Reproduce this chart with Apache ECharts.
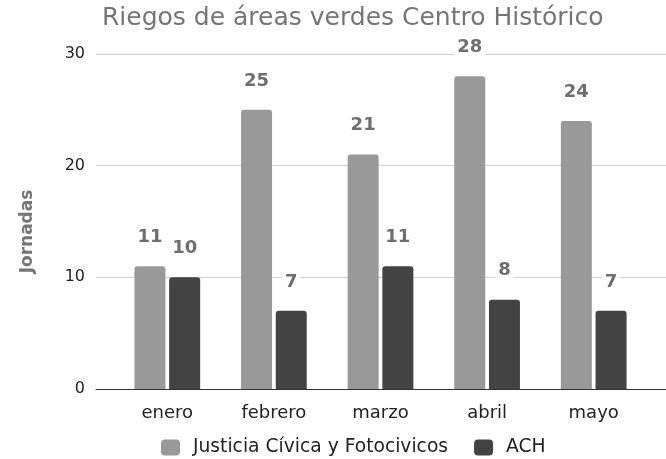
<!DOCTYPE html>
<html>
<head>
<meta charset="utf-8">
<script src="https://cdn.jsdelivr.net/npm/echarts@6/dist/echarts.min.js"></script>
<style>
  html, body { margin: 0; padding: 0; background: #fff; }
  #chart { width: 666px; height: 459px; }
</style>
</head>
<body>
<div id="chart"></div>
<script>
var chart = echarts.init(document.getElementById('chart'));

var months = ['enero', 'febrero', 'marzo', 'abril', 'mayo'];
var justicia = [11, 25, 21, 28, 24];
var ach = [10, 7, 11, 8, 7];
var yTicks = [0, 10, 20, 30];

var FONT = 'DejaVu Sans';

var barLabel = {
  show: true,
  position: 'top',
  distance: 19,
  fontFamily: FONT,
  fontSize: 18,
  fontWeight: 'bold',
  color: '#6e6e6e',
  backgroundColor: '#fff',
  padding: [1, 3]
};

var option = {
  animation: false,
  textStyle: { fontFamily: FONT },
  title: {
    text: 'Riegos de áreas verdes Centro Histórico',
    left: 97,
    top: 1,
    textStyle: { fontFamily: FONT, fontSize: 25, fontWeight: 'normal', color: '#757575' }
  },
  legend: {
    left: 156,
    top: 433,
    icon: 'roundRect',
    itemWidth: 19,
    itemHeight: 16,
    itemGap: 26,
    textStyle: { fontFamily: FONT, fontSize: 18.7, color: '#222', padding: [0, 0, 0, 8] },
    data: ['Justicia Cívica y Fotocivicos', 'ACH']
  },
  grid: [
    { left: 96, right: 0, top: 54, bottom: 70 },
    { left: 114, right: 19, top: 54, bottom: 70 }
  ],
  xAxis: [
    {
      type: 'category', gridIndex: 0, data: [''],
      axisLine: { lineStyle: { color: '#333', width: 1 } },
      axisTick: { show: false }, axisLabel: { show: false }
    },
    {
      type: 'category', gridIndex: 1, data: months,
      axisLine: { show: false }, axisTick: { show: false },
      axisLabel: { fontFamily: FONT, fontSize: 18, color: '#222', margin: 15 }
    }
  ],
  yAxis: [
    {
      type: 'value', gridIndex: 0, min: yTicks[0], max: yTicks[yTicks.length - 1], interval: 10,
      name: 'Jornadas', nameLocation: 'middle', nameGap: 60,
      nameTextStyle: { fontFamily: FONT, fontSize: 17, fontWeight: 'bold', color: '#757575', padding: [0, 20, 0, 0] },
      axisLine: { show: false }, axisTick: { show: false },
      axisLabel: { fontFamily: FONT, fontSize: 16, color: '#222', margin: 11 },
      splitLine: { lineStyle: { color: '#cfcfcf', width: 1 } }
    },
    {
      type: 'value', gridIndex: 1, min: yTicks[0], max: yTicks[yTicks.length - 1], interval: 10,
      show: false, splitLine: { show: false }
    }
  ],
  series: [
    {
      name: 'Justicia Cívica y Fotocivicos', type: 'bar', xAxisIndex: 1, yAxisIndex: 1,
      data: justicia, barWidth: 31, barGap: '12%',
      itemStyle: { color: '#999999', borderRadius: [3, 3, 0, 0] },
      label: barLabel
    },
    {
      name: 'ACH', type: 'bar', xAxisIndex: 1, yAxisIndex: 1,
      data: ach, barWidth: 31, barGap: '12%',
      itemStyle: { color: '#434343', borderRadius: [3, 3, 0, 0] },
      label: barLabel
    }
  ]
};

chart.setOption(option);
</script>
</body>
</html>
